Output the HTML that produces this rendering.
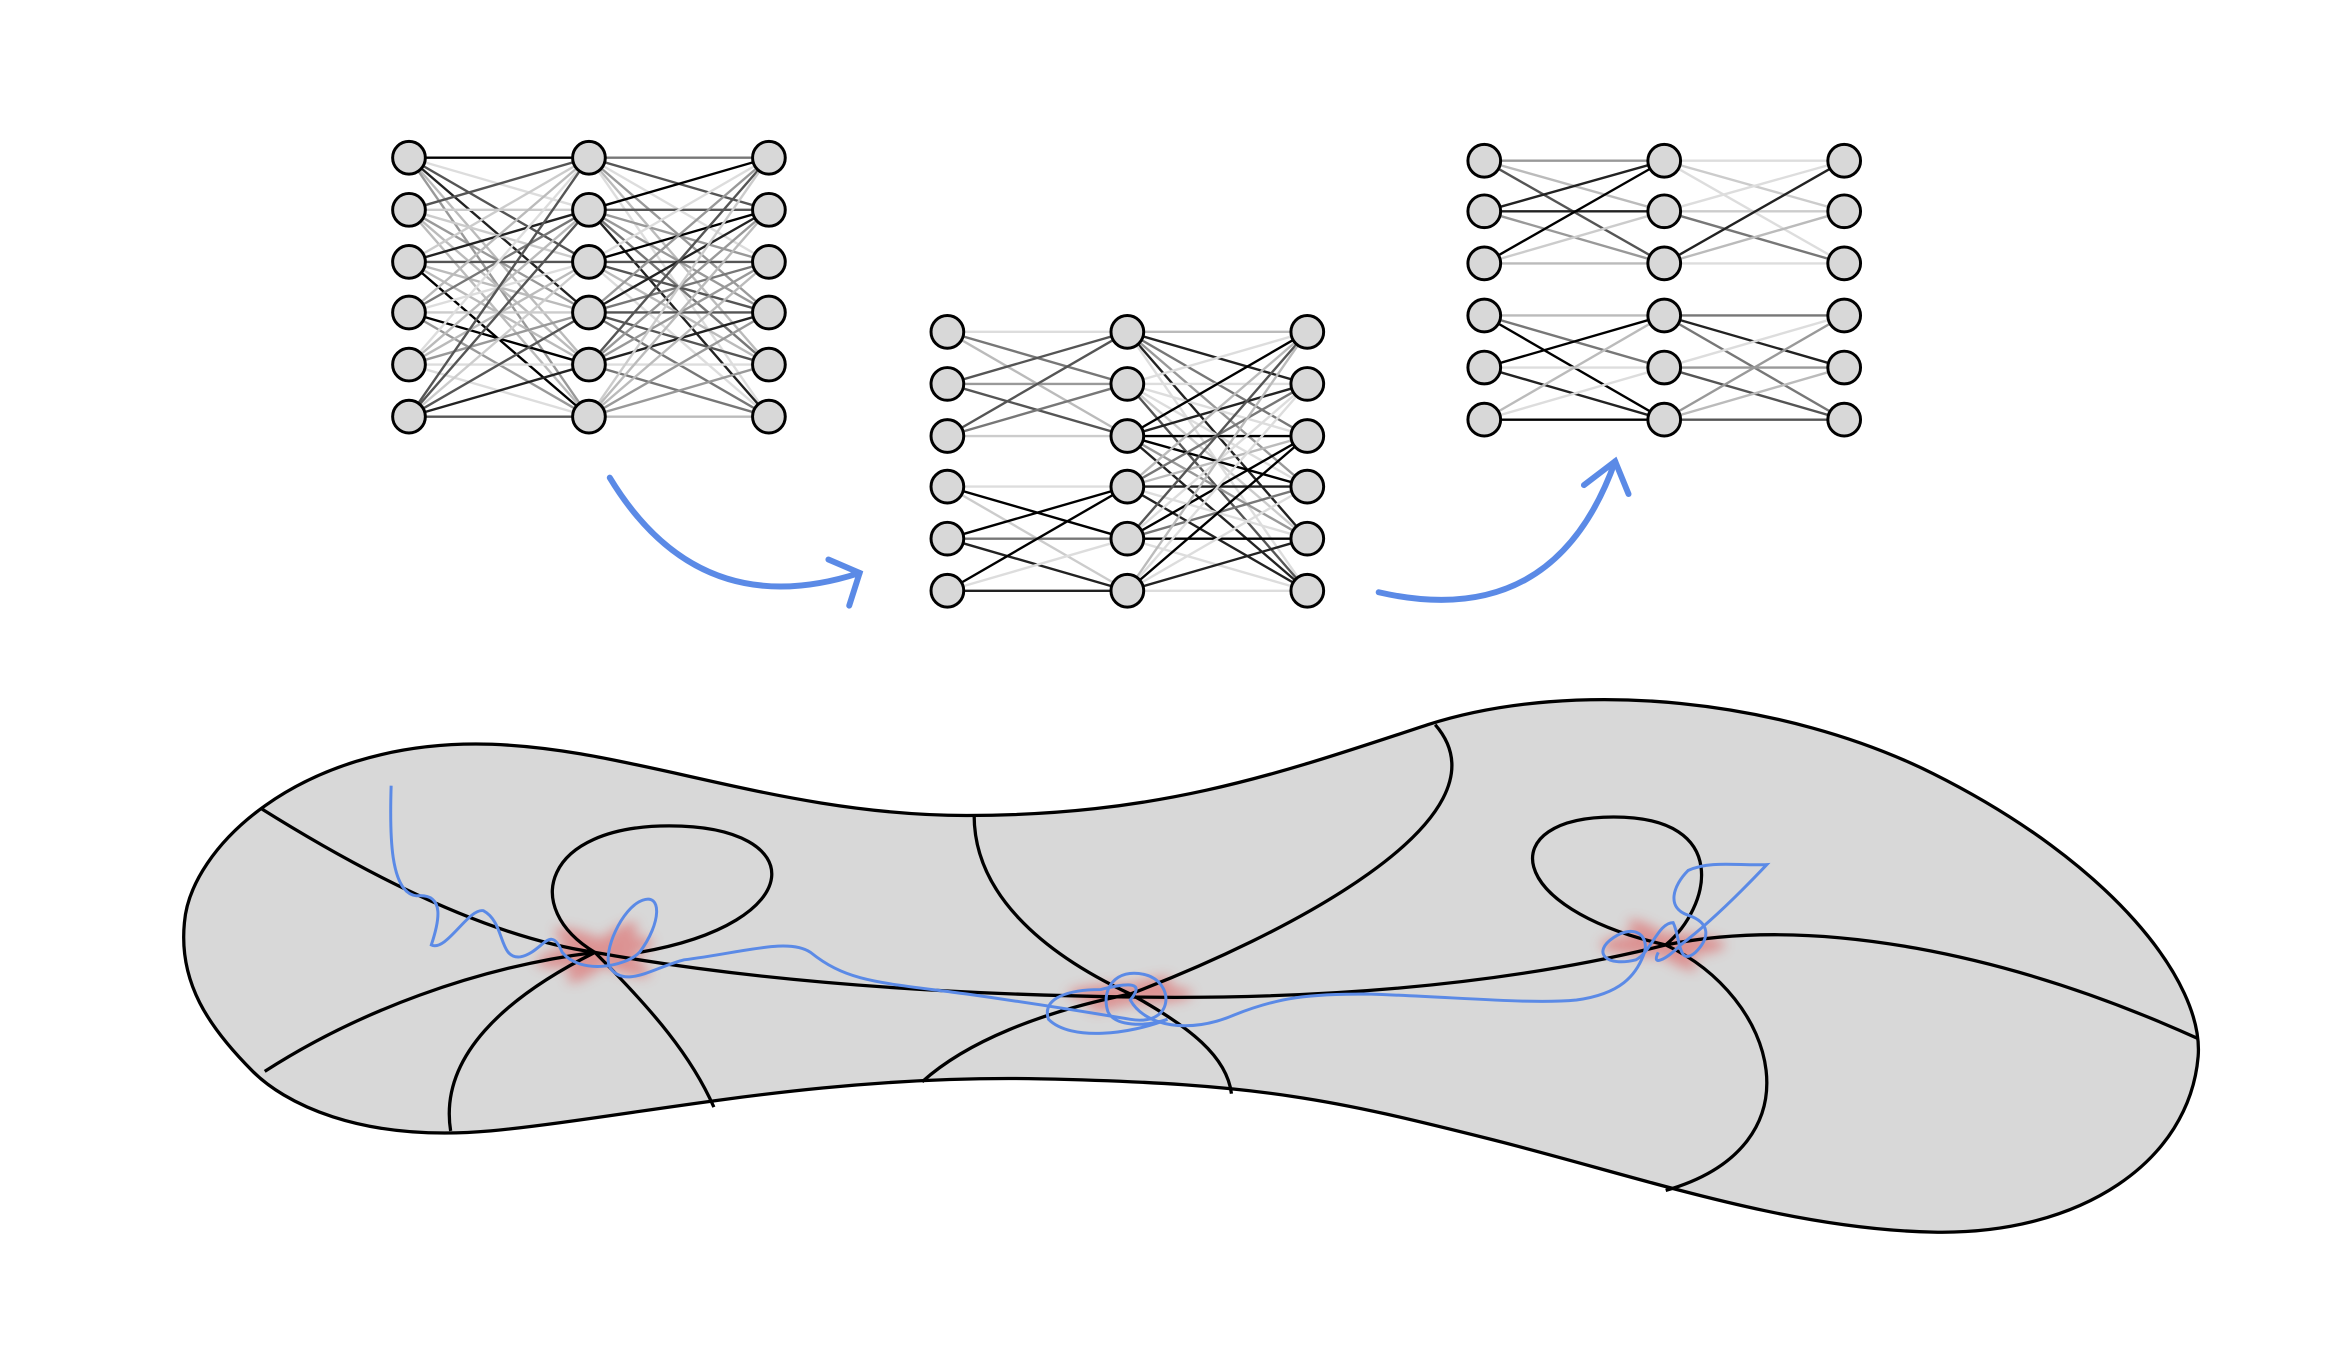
<!DOCTYPE html>
<html><head><meta charset="utf-8"><style>html,body{margin:0;padding:0;background:#fff}svg{display:block}</style></head>
<body>
<svg id="s" width="2332" height="1372" viewBox="0 0 1568 922" preserveAspectRatio="none" xmlns="http://www.w3.org/2000/svg">
<defs><filter id="b" x="-50%" y="-50%" width="200%" height="200%"><feGaussianBlur stdDeviation="4"/></filter></defs>
<g id="nets"></g>
<g fill="none" stroke="#5b8ae6" stroke-width="4" stroke-linecap="round">
<path d="M410,321 Q470,420 578,385"/><path d="M557,376 L578,385 L571,407"/>
<path d="M927,398 Q1045,425 1086,310"/><path d="M1065,326 L1086,310 L1095,332"/>
</g>
<path d="M320,500 C420,500 520,548 650,548 C780,548 860,520 960,487 C1060,455 1200,470 1300,520 C1420,580 1482,660 1478,710 C1472,780 1400,830 1300,828 C1200,826 1100,790 1000,765 C900,740 850,728 700,725 C550,722 430,750 330,760 C240,768 190,740 170,720 C140,690 120,660 124,620 C128,570 200,500 320,500 Z" fill="#d8d8d8" stroke="#000" stroke-width="2.2"/>
<g filter="url(#b)" fill="#e05050" opacity="0.5">
<ellipse cx="400" cy="640" rx="40" ry="8" transform="rotate(-10 400 640)"/><ellipse cx="405" cy="640" rx="35" ry="8" transform="rotate(25 405 640)"/><ellipse cx="405" cy="640" rx="30" ry="8" transform="rotate(-40 405 640)"/>
<ellipse cx="760" cy="668" rx="42" ry="7"/><ellipse cx="760" cy="668" rx="30" ry="6" transform="rotate(-20 760 668)"/>
<ellipse cx="1118" cy="635" rx="42" ry="8"/><ellipse cx="1118" cy="635" rx="28" ry="7" transform="rotate(35 1118 635)"/>
</g>
<g fill="none" stroke="#000" stroke-width="2.2">
<path d="M175,543 C250,590 330,630 400,640 C500,658 620,668 760,670 C900,672 1020,660 1120,635 C1220,615 1350,640 1478,698"/>
<path d="M178,720 C240,680 320,650 400,640"/>
<path d="M400,640 C350,610 365,555 450,555 C545,555 545,620 430,640"/>
<path d="M303,760 C295,710 340,670 400,640"/>
<path d="M400,640 C440,680 465,710 480,744"/>
<path d="M655,548 C655,600 700,640 760,668"/>
<path d="M760,668 C860,630 1020,550 965,487"/>
<path d="M620,727 C650,700 700,680 760,668"/>
<path d="M760,668 C800,690 825,710 828,735"/>
<path d="M1120,635 C1010,610 1005,549 1085,549 C1165,549 1150,610 1120,635"/>
<path d="M1120,635 C1195,670 1225,770 1120,800"/>
</g>
<path fill="none" stroke="#5b8ae6" stroke-width="2" d="M263,528 C262,560 262,600 280,602 C300,600 295,620 290,635 C300,640 315,610 325,612 C340,620 335,645 350,643 C365,640 370,620 378,640 C390,655 420,650 430,640 C445,620 445,600 432,605 C418,610 405,640 410,650 C420,665 440,650 460,645 C500,640 530,630 545,640 C570,660 590,660 650,668 C700,675 730,680 760,685 C790,690 790,660 770,655 C750,650 740,665 745,680 C750,690 770,690 785,685 C760,695 720,700 705,685 C700,670 720,665 740,665 C760,660 770,660 760,672 C770,690 800,695 830,682 C860,670 880,668 920,668 C980,670 1030,675 1060,672 C1090,668 1100,655 1105,642 C1110,630 1100,620 1085,630 C1070,640 1080,650 1100,645 C1110,640 1115,620 1125,620 C1130,630 1128,650 1140,640 C1150,630 1150,620 1135,615 C1120,610 1125,595 1135,585 C1150,578 1170,582 1188,581 C1170,600 1150,620 1130,635 C1120,645 1110,650 1115,640"/>
<script>
(function(){
var g=document.getElementById('nets'),NS='http://www.w3.org/2000/svg',seed=7;
function r(){seed=(seed*16807)%2147483647;return seed/2147483647;}
var grays=['#000','#222','#555','#777','#999','#bbb','#ccc','#ddd'];
function line(x1,y1,x2,y2){var l=document.createElementNS(NS,'line');l.setAttribute('x1',x1);l.setAttribute('y1',y1);l.setAttribute('x2',x2);l.setAttribute('y2',y2);l.setAttribute('stroke',grays[Math.floor(r()*grays.length)]);l.setAttribute('stroke-width','1.6');g.appendChild(l);}
function net(xs,ys,b1,b2){
 for(var L=0;L<2;L++){var blk=L==0?b1:b2;
  for(var i=0;i<6;i++)for(var j=0;j<6;j++){ if(blk&&((i<3)!=(j<3)))continue; line(xs[L],ys[i],xs[L+1],ys[j]);}}
 for(var c=0;c<3;c++)for(var k=0;k<6;k++){var e=document.createElementNS(NS,'circle');e.setAttribute('cx',xs[c]);e.setAttribute('cy',ys[k]);e.setAttribute('r',11);e.setAttribute('fill','#d8d8d8');e.setAttribute('stroke','#000');e.setAttribute('stroke-width','2');g.appendChild(e);}
}
net([275,396,517],[106,141,176,210,245,280],false,false);
net([637,758,879],[223,258,293,327,362,397],true,false);
net([998,1119,1240],[108,142,177,212,247,282],true,true);
})();
</script>
</svg>
</body></html>
